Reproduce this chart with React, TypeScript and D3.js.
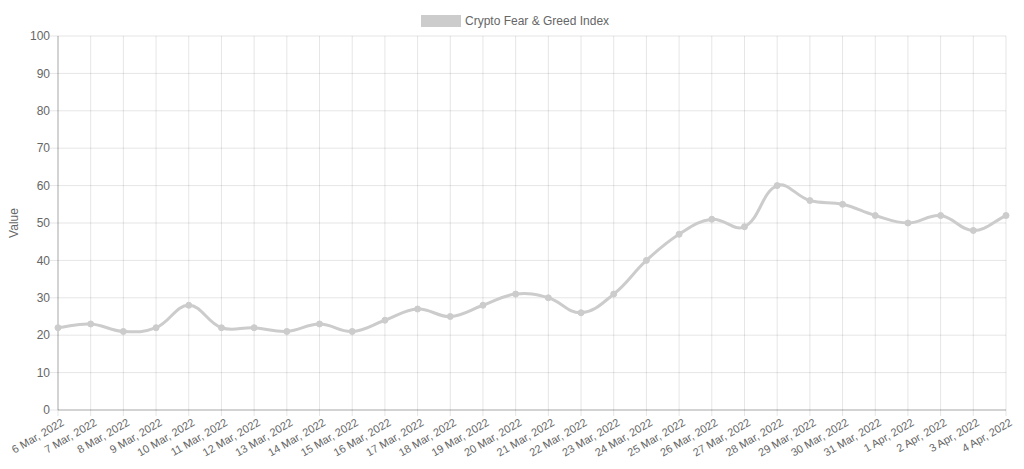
import React from "react";
import * as d3 from "d3";

const labels = [
  "6 Mar, 2022", "7 Mar, 2022", "8 Mar, 2022", "9 Mar, 2022", "10 Mar, 2022",
  "11 Mar, 2022", "12 Mar, 2022", "13 Mar, 2022", "14 Mar, 2022", "15 Mar, 2022",
  "16 Mar, 2022", "17 Mar, 2022", "18 Mar, 2022", "19 Mar, 2022", "20 Mar, 2022",
  "21 Mar, 2022", "22 Mar, 2022", "23 Mar, 2022", "24 Mar, 2022", "25 Mar, 2022",
  "26 Mar, 2022", "27 Mar, 2022", "28 Mar, 2022", "29 Mar, 2022", "30 Mar, 2022",
  "31 Mar, 2022", "1 Apr, 2022", "2 Apr, 2022", "3 Apr, 2022", "4 Apr, 2022",
];
const values = [22, 23, 21, 22, 28, 22, 22, 21, 23, 21, 24, 27, 25, 28, 31, 30, 26, 31, 40, 47, 51, 49, 60, 56, 55, 52, 50, 52, 48, 52];
const yTicks = [0, 10, 20, 30, 40, 50, 60, 70, 80, 90, 100];
const seriesName = "Crypto Fear & Greed Index";

const W = 1024, H = 469;
const left = 58, right = 1006, top = 36, bottom = 410;
const FONT = "'Liberation Sans', Arial, Helvetica, sans-serif";
const LINE = "rgb(204,204,204)";

function splinePath(pts: [number, number][], t: number): string {
  const n = pts.length;
  const cps: { p: [number, number]; n: [number, number] }[] = [];
  for (let i = 0; i < n; i++) {
    const prev = pts[Math.max(0, i - 1)];
    const cur = pts[i];
    const next = pts[Math.min(n - 1, i + 1)];
    const d01 = Math.hypot(cur[0] - prev[0], cur[1] - prev[1]);
    const d12 = Math.hypot(next[0] - cur[0], next[1] - cur[1]);
    let s01 = d01 / (d01 + d12);
    let s12 = d12 / (d01 + d12);
    s01 = isNaN(s01) ? 0 : s01;
    s12 = isNaN(s12) ? 0 : s12;
    const fa = t * s01, fb = t * s12;
    const clampY = (y: number) => Math.max(top, Math.min(bottom, y));
    cps.push({
      p: [cur[0] - fa * (next[0] - prev[0]), clampY(cur[1] - fa * (next[1] - prev[1]))],
      n: [cur[0] + fb * (next[0] - prev[0]), clampY(cur[1] + fb * (next[1] - prev[1]))],
    });
  }
  const path = d3.path();
  path.moveTo(pts[0][0], pts[0][1]);
  for (let i = 1; i < n; i++) {
    const a = cps[i - 1].n, b = cps[i].p;
    path.bezierCurveTo(a[0], a[1], b[0], b[1], pts[i][0], pts[i][1]);
  }
  return path.toString();
}

export default function App() {
  const x = d3.scalePoint<string>().domain(labels).range([left, right]);
  const y = d3.scaleLinear().domain([0, 100]).range([bottom, top]);
  const pts: [number, number][] = values.map((v, i) => [x(labels[i]) as number, y(v)]);
  const rot = 30;

  return (
    <svg width={W} height={H} style={{ position: "absolute", left: 0, top: 0, background: "#fff" }}>
      {yTicks.map((t) => (
        <line key={"h" + t} x1={left - 8} x2={right} y1={y(t)} y2={y(t)} stroke="rgba(0,0,0,0.1)" strokeWidth={1} />
      ))}
      {labels.map((l) => (
        <line key={"v" + l} x1={x(l)} x2={x(l)} y1={top} y2={bottom + 6} stroke="rgba(0,0,0,0.1)" strokeWidth={1} />
      ))}
      <line x1={left} x2={left} y1={top} y2={bottom} stroke="rgba(0,0,0,0.25)" />
      <line x1={left} x2={right} y1={bottom} y2={bottom} stroke="rgba(0,0,0,0.25)" />
      {yTicks.map((t) => (
        <text key={"yt" + t} x={left - 8} y={y(t)} dy="0.35em" textAnchor="end" fontSize={12} fill="#666" fontFamily={FONT}>
          {t}
        </text>
      ))}
      <text transform={`translate(18,${(top + bottom) / 2}) rotate(-90)`} textAnchor="middle" fontSize={12} fill="#666" fontFamily={FONT}>
        Value
      </text>
      {labels.map((l) => (
        <text key={"xt" + l} transform={`translate(${(x(l) as number) + 3},${bottom + 8}) rotate(${-rot})`} textAnchor="end" dy="0.7em" fontSize={11} fill="#666" fontFamily={FONT}>
          {l}
        </text>
      ))}
      <path d={splinePath(pts, 0.4)} fill="none" stroke={LINE} strokeWidth={3} />
      {pts.map((p, i) => (
        <circle key={"p" + i} cx={p[0]} cy={p[1]} r={3} fill={LINE} stroke={LINE} strokeWidth={1} />
      ))}
      <rect x={421} y={15} width={40} height={12} fill={LINE} />
      <text x={465} y={21} dy="0.35em" fontSize={12} fill="#666" fontFamily={FONT}>
        {seriesName}
      </text>
    </svg>
  );
}
